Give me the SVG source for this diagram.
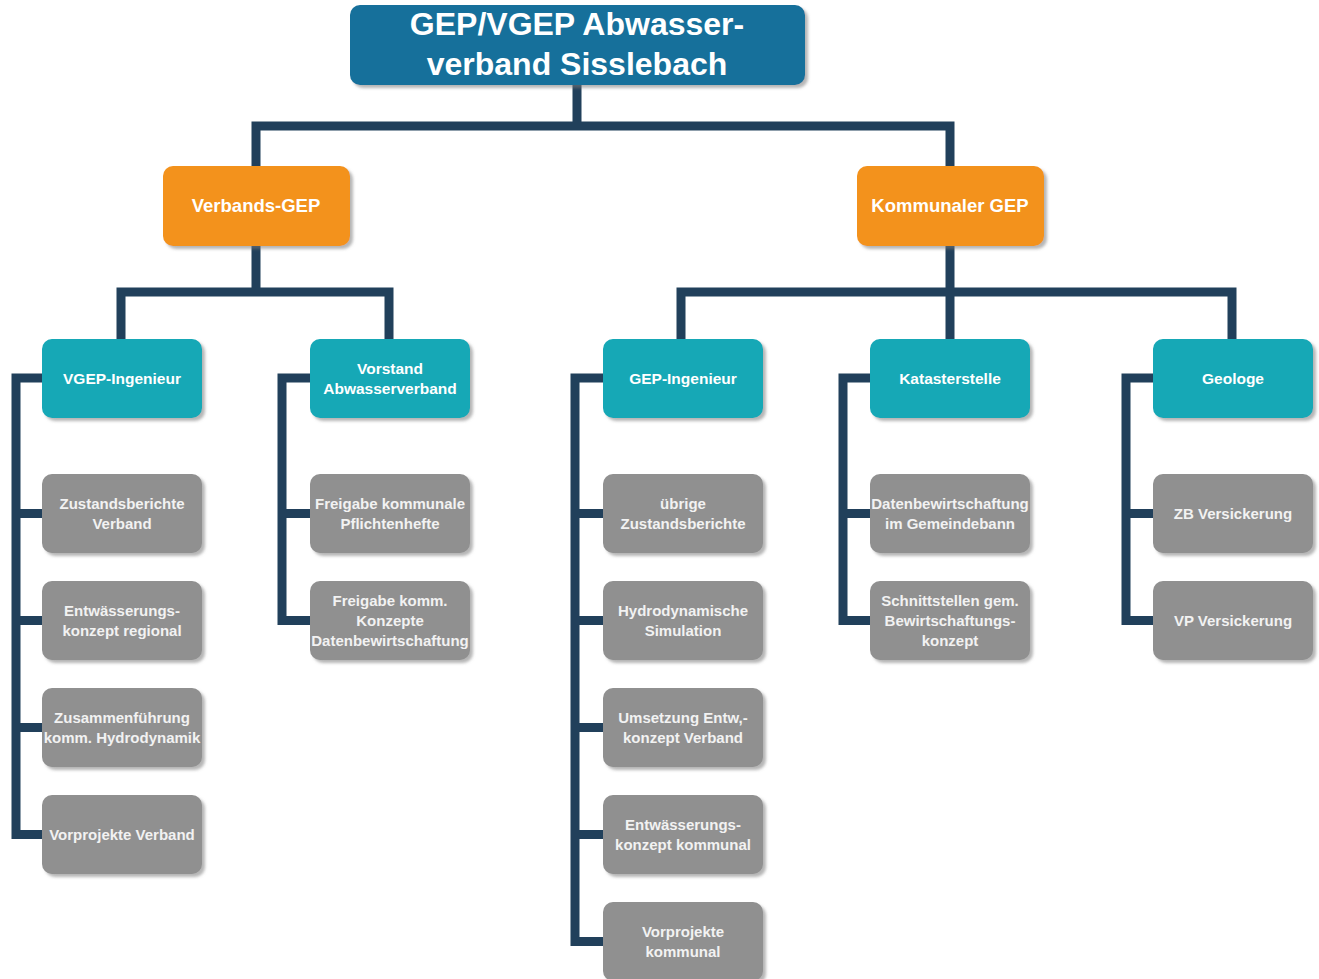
<svg xmlns="http://www.w3.org/2000/svg" width="1319" height="979" viewBox="0 0 1319 979">
<defs>
<filter id="sh" x="-10%" y="-10%" width="125%" height="130%">
<feDropShadow dx="3" dy="3" stdDeviation="1.8" flood-color="#7a7a7a" flood-opacity="0.55"/>
</filter>
<style>
.box{filter:url(#sh);}
.title{fill:#19709b;}
.org{fill:#f3921f;}
.teal{fill:#13a8b6;}
.gray{fill:#909090;}
text{font-family:"Liberation Sans",Arial,sans-serif;font-weight:bold;text-anchor:middle;fill:#ffffff;}
.tt{font-size:32px;}
.to{font-size:18.5px;}
.tn{font-size:15.5px;}
.tg{font-size:15px;fill:#f2f2f2;}
.con{fill:none;stroke:#21405b;stroke-width:9;stroke-linejoin:miter;stroke-linecap:butt;}
</style>
</defs>
<rect width="1319" height="979" fill="#ffffff"/>
<g id="connectors">
<path class="con" d="M577 85 V126 M256 170 V126 H950 V170"/>
<path class="con" d="M256 246 V292 M121 342 V292 H389 V342"/>
<path class="con" d="M950 246 V342 M681 342 V292 H1232 V342"/>
<path class="con" d="M42 378 H16 V834.5 H42 M16 513.5 H42 M16 620.5 H42 M16 727.5 H42"/>
<path class="con" d="M310 378 H282 V620.5 H310 M282 513.5 H310"/>
<path class="con" d="M603 378 H575 V941.5 H603 M575 513.5 H603 M575 620.5 H603 M575 727.5 H603 M575 834.5 H603"/>
<path class="con" d="M870 378 H843 V620.5 H870 M843 513.5 H870"/>
<path class="con" d="M1153 378 H1126 V620.5 H1153 M1126 513.5 H1153"/>
</g>
<g id="n-root"><rect class="box title" x="350" y="5" width="455" height="80" rx="10"/><text class="tt" x="577" y="35">GEP/VGEP Abwasser-</text><text class="tt" x="577" y="75">verband Sisslebach</text></g>
<g id="n-verbands-gep"><rect class="box org" x="163" y="166" width="187" height="80" rx="10"/><text class="to" x="256" y="212">Verbands-GEP</text></g>
<g id="n-kommunaler-gep"><rect class="box org" x="857" y="166" width="187" height="80" rx="10"/><text class="to" x="950" y="212">Kommunaler GEP</text></g>
<g id="n-vgep-ing"><rect class="box teal" x="42" y="339" width="160" height="79" rx="10"/><text class="tn" x="122" y="384">VGEP-Ingenieur</text></g>
<g id="n-vorstand"><rect class="box teal" x="310" y="339" width="160" height="79" rx="10"/><text class="tn" x="390" y="374">Vorstand</text><text class="tn" x="390" y="394">Abwasserverband</text></g>
<g id="n-gep-ing"><rect class="box teal" x="603" y="339" width="160" height="79" rx="10"/><text class="tn" x="683" y="384">GEP-Ingenieur</text></g>
<g id="n-kataster"><rect class="box teal" x="870" y="339" width="160" height="79" rx="10"/><text class="tn" x="950" y="384">Katasterstelle</text></g>
<g id="n-geologe"><rect class="box teal" x="1153" y="339" width="160" height="79" rx="10"/><text class="tn" x="1233" y="384">Geologe</text></g>

<g id="n-zust-verband"><rect class="box gray" x="42" y="474" width="160" height="79" rx="10"/><text class="tg" x="122" y="508.5">Zustandsberichte</text><text class="tg" x="122" y="528.5">Verband</text></g>
<g id="n-entw-regional"><rect class="box gray" x="42" y="581" width="160" height="79" rx="10"/><text class="tg" x="122" y="615.5">Entwässerungs-</text><text class="tg" x="122" y="635.5">konzept regional</text></g>
<g id="n-zusammen"><rect class="box gray" x="42" y="688" width="160" height="79" rx="10"/><text class="tg" x="122" y="722.5">Zusammenführung</text><text class="tg" x="122" y="742.5">komm. Hydrodynamik</text></g>
<g id="n-vorprojekte-verband"><rect class="box gray" x="42" y="795" width="160" height="79" rx="10"/><text class="tg" x="122" y="839.5">Vorprojekte Verband</text></g>

<g id="n-freigabe-pfl"><rect class="box gray" x="310" y="474" width="160" height="79" rx="10"/><text class="tg" x="390" y="508.5">Freigabe kommunale</text><text class="tg" x="390" y="528.5">Pflichtenhefte</text></g>
<g id="n-freigabe-konz"><rect class="box gray" x="310" y="581" width="160" height="79" rx="10"/><text class="tg" x="390" y="605.5">Freigabe komm.</text><text class="tg" x="390" y="625.5">Konzepte</text><text class="tg" x="390" y="645.5">Datenbewirtschaftung</text></g>

<g id="n-uebrige"><rect class="box gray" x="603" y="474" width="160" height="79" rx="10"/><text class="tg" x="683" y="508.5">übrige</text><text class="tg" x="683" y="528.5">Zustandsberichte</text></g>
<g id="n-hydro"><rect class="box gray" x="603" y="581" width="160" height="79" rx="10"/><text class="tg" x="683" y="615.5">Hydrodynamische</text><text class="tg" x="683" y="635.5">Simulation</text></g>
<g id="n-umsetzung"><rect class="box gray" x="603" y="688" width="160" height="79" rx="10"/><text class="tg" x="683" y="722.5">Umsetzung Entw,-</text><text class="tg" x="683" y="742.5">konzept Verband</text></g>
<g id="n-entw-kommunal"><rect class="box gray" x="603" y="795" width="160" height="79" rx="10"/><text class="tg" x="683" y="829.5">Entwässerungs-</text><text class="tg" x="683" y="849.5">konzept kommunal</text></g>
<g id="n-vorprojekte-kommunal"><rect class="box gray" x="603" y="902" width="160" height="79" rx="10"/><text class="tg" x="683" y="936.5">Vorprojekte</text><text class="tg" x="683" y="956.5">kommunal</text></g>

<g id="n-datenbew"><rect class="box gray" x="870" y="474" width="160" height="79" rx="10"/><text class="tg" x="950" y="508.5">Datenbewirtschaftung</text><text class="tg" x="950" y="528.5">im Gemeindebann</text></g>
<g id="n-schnitt"><rect class="box gray" x="870" y="581" width="160" height="79" rx="10"/><text class="tg" x="950" y="605.5">Schnittstellen gem.</text><text class="tg" x="950" y="625.5">Bewirtschaftungs-</text><text class="tg" x="950" y="645.5">konzept</text></g>

<g id="n-zb-vers"><rect class="box gray" x="1153" y="474" width="160" height="79" rx="10"/><text class="tg" x="1233" y="518.5">ZB Versickerung</text></g>
<g id="n-vp-vers"><rect class="box gray" x="1153" y="581" width="160" height="79" rx="10"/><text class="tg" x="1233" y="625.5">VP Versickerung</text></g>
</svg>
